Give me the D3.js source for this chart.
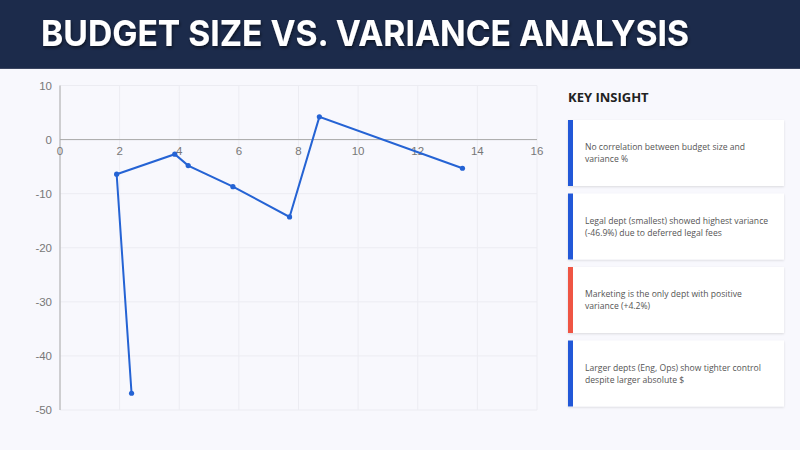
<!DOCTYPE html>
<html>
<head>
<meta charset="utf-8">
<script src="https://cdn.jsdelivr.net/npm/d3@7"></script>
<style>
  body { margin: 0; background: #f8f8fd; }
  svg { display: block; }
</style>
</head>
<body>
<div id="chart"></div>
<script>
// Data: budget size ($M) vs variance %, in plotted order
const budgets = [2.4, 1.9, 3.85, 4.3, 5.8, 7.7, 8.7, 13.5];
const variances = [-46.9, -6.4, -2.7, -4.8, -8.7, -14.3, 4.2, -5.3];
const xTicks = [0, 2, 4, 6, 8, 10, 12, 14, 16];
const yTicks = [10, 0, -10, -20, -30, -40, -50];
const insights = [
    ["No correlation between budget size and", "variance %"],
    ["Legal dept (smallest) showed highest variance", "(-46.9%) due to deferred legal fees"],
    ["Marketing is the only dept with positive", "variance (+4.2%)"],
    ["Larger depts (Eng, Ops) show tighter control", "despite larger absolute $"]
];
const insightColors = ["#2258d8", "#2258d8", "#ef5544", "#2258d8"];

const width = 800, height = 450;
const svg = d3.select("#chart").append("svg")
    .attr("width", width)
    .attr("height", height);

const defs = svg.append("defs");
const shadow = defs.append("filter").attr("id", "shadow")
    .attr("x", "-10%").attr("y", "-10%").attr("width", "120%").attr("height", "130%");
shadow.append("feDropShadow").attr("dx", 0).attr("dy", 1).attr("stdDeviation", 1.2)
    .attr("flood-color", "#000").attr("flood-opacity", 0.12);
const tshadow = defs.append("filter").attr("id", "tshadow");
tshadow.append("feDropShadow").attr("dx", 1).attr("dy", 2).attr("stdDeviation", 1.5)
    .attr("flood-color", "#000").attr("flood-opacity", 0.5);

// Header
svg.append("rect").attr("width", width).attr("height", 68).attr("fill", "#1c2b4b");
svg.append("rect").attr("y", 68).attr("width", width).attr("height", 1).attr("fill", "#3a4560");
svg.append("text")
    .attr("x", 41).attr("y", 46)
    .attr("fill", "#ffffff")
    .attr("font-family", "Inter, Roboto, sans-serif")
    .attr("font-weight", 700)
    .attr("font-size", 36)
    .attr("textLength", 648)
    .attr("lengthAdjust", "spacingAndGlyphs")
    .attr("filter", "url(#tshadow)")
    .text("BUDGET SIZE VS. VARIANCE ANALYSIS");

// Scales
const x = d3.scaleLinear().domain([0, 16]).range([60, 537]);
const y = d3.scaleLinear().domain([-50, 10]).range([410, 85.5]);

const g = svg.append("g");

// Grid
g.selectAll(".vgrid").data(xTicks).join("line")
    .attr("x1", d => x(d)).attr("x2", d => x(d))
    .attr("y1", y(10)).attr("y2", y(-50))
    .attr("stroke", "#ececf2").attr("stroke-width", 1);
g.selectAll(".hgrid").data(yTicks).join("line")
    .attr("x1", x(0)).attr("x2", x(16))
    .attr("y1", d => y(d)).attr("y2", d => y(d))
    .attr("stroke", "#ececf2").attr("stroke-width", 1);

// Axes lines
g.append("line").attr("x1", x(0)).attr("x2", x(0)).attr("y1", y(10)).attr("y2", y(-50))
    .attr("stroke", "#aaaaaa");
g.append("line").attr("x1", x(0)).attr("x2", x(16)).attr("y1", y(0)).attr("y2", y(0))
    .attr("stroke", "#aaaaaa");

// Tick labels
g.selectAll(".ylab").data(yTicks).join("text")
    .attr("x", 52).attr("y", d => y(d) + 4)
    .attr("text-anchor", "end")
    .attr("font-family", "Liberation Sans, Arial, sans-serif")
    .attr("font-size", 11.5).attr("fill", "#777")
    .text(d => d);
g.selectAll(".xlab").data(xTicks).join("text")
    .attr("x", d => x(d)).attr("y", y(0) + 15)
    .attr("text-anchor", "middle")
    .attr("font-family", "Liberation Sans, Arial, sans-serif")
    .attr("font-size", 11.5).attr("fill", "#777")
    .text(d => d);

// Line + points
const pts = budgets.map((b, i) => [b, variances[i]]);
g.append("path")
    .datum(pts)
    .attr("fill", "none")
    .attr("stroke", "#2563d4")
    .attr("stroke-width", 2)
    .attr("d", d3.line().x(d => x(d[0])).y(d => y(d[1])));
g.selectAll(".pt").data(pts).join("circle")
    .attr("cx", d => x(d[0])).attr("cy", d => y(d[1]))
    .attr("r", 2.6).attr("fill", "#2563d4");

// Right panel
svg.append("text")
    .attr("x", 568).attr("y", 102)
    .attr("font-family", "Open Sans, sans-serif")
    .attr("font-weight", 700).attr("font-size", 13)
    .attr("fill", "#222")
    .text("KEY INSIGHT");

const cards = svg.selectAll(".card").data(insights).join("g")
    .attr("transform", (d, i) => `translate(568,${120 + i * 73.5})`);
cards.append("rect")
    .attr("width", 216).attr("height", 66)
    .attr("fill", "#ffffff")
    .attr("filter", "url(#shadow)");
cards.append("rect")
    .attr("width", 5).attr("height", 66)
    .attr("fill", (d, i) => insightColors[i]);
cards.each(function (d) {
    const t = d3.select(this).append("text")
        .attr("font-family", "Open Sans, sans-serif")
        .attr("font-size", 8.6).attr("fill", "#555");
    d.forEach((line, j) => {
        t.append("tspan").attr("x", 17).attr("y", 30 + j * 12).text(line);
    });
});
</script>
</body>
</html>
